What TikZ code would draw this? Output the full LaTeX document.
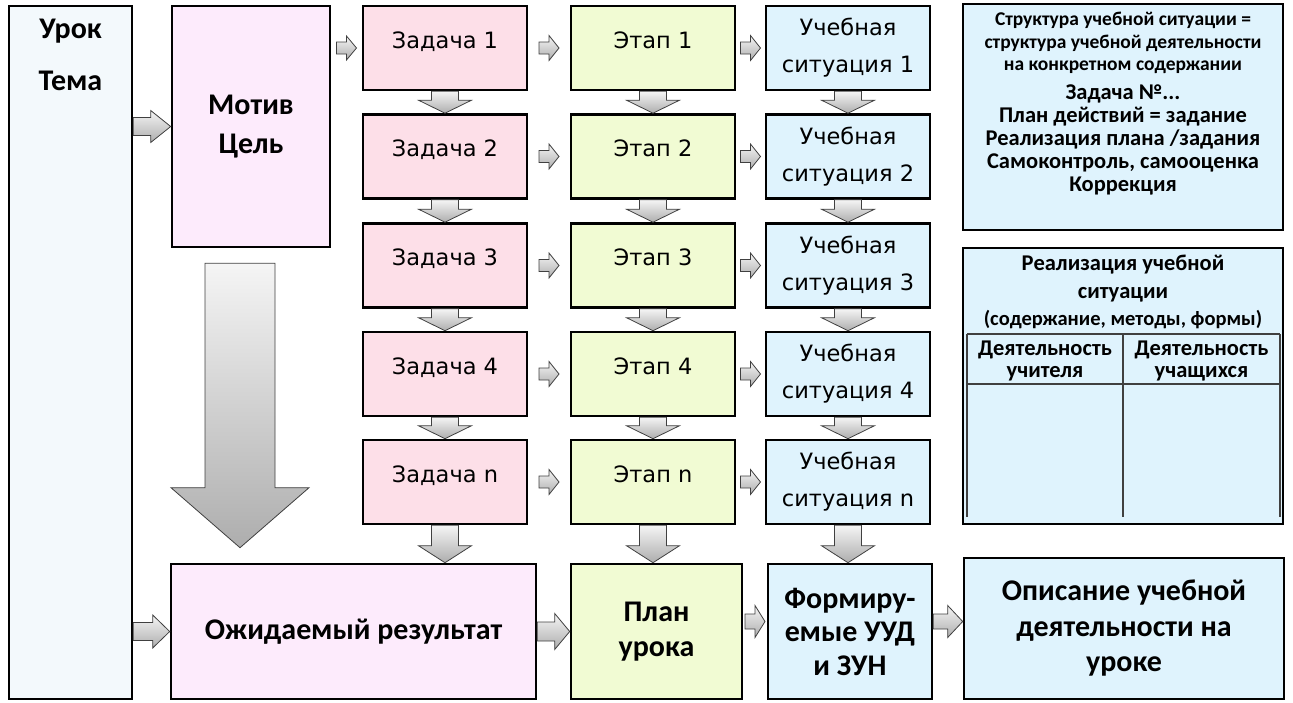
\documentclass[tikz,border=0pt]{standalone}
\usepackage{fontspec}
\setmainfont{Carlito}
\newfontfamily\dvfont{DejaVu Sans}
\usetikzlibrary{calc}
\definecolor{urokfill}{HTML}{F3F9FC}
\definecolor{motivfill}{HTML}{FDEBFC}
\definecolor{zadfill}{HTML}{FDDFE8}
\definecolor{etapfill}{HTML}{F1FBD3}
\definecolor{uchfill}{HTML}{DFF3FD}
\definecolor{arrline}{HTML}{404040}
% full-span horizontal block arrow: from #1 to #2, shaft half #3, head half #4, head length #5
\newcommand{\harr}[5]{\draw[blockarrow] let \p1=(#1), \p2=(#2) in
  (\x1,\y1+#3) -- (\x2-#5,\y1+#3) -- (\x2-#5,\y1+#4) -- (\x2,\y1) -- (\x2-#5,\y1-#4) -- (\x2-#5,\y1-#3) -- (\x1,\y1-#3) -- cycle;}
% short horizontal block arrow centred between #1 and #2: half length #3, shaft half #4, head half #5, head length #6
\newcommand{\sarr}[6]{\draw[blockarrow] let \p1=($(#1)!0.5!(#2)$) in
  (\x1-#3,\y1+#4) -- (\x1+#3-#6,\y1+#4) -- (\x1+#3-#6,\y1+#5) -- (\x1+#3,\y1) -- (\x1+#3-#6,\y1-#5) -- (\x1+#3-#6,\y1-#4) -- (\x1-#3,\y1-#4) -- cycle;}
% vertical block arrow from #1 down to #2: shaft half #3, head half #4, head length #5
\newcommand{\darr}[5]{\draw[blockarrow] let \p1=(#1), \p2=(#2) in
  (\x1-#3,\y1) -- (\x1-#3,\y2+#5) -- (\x1-#4,\y2+#5) -- (\x1,\y2) -- (\x1+#4,\y2+#5) -- (\x1+#3,\y2+#5) -- (\x1+#3,\y1) -- cycle;}
\begin{document}
\begin{tikzpicture}[x=1pt,y=-1pt,
  box/.style={draw=black, line width=2.6pt, inner sep=0pt, align=center},
  bold/.style={font=\bfseries\fontsize{30}{39}\selectfont, align=center},
  plain/.style={font=\dvfont\fontsize{22.5}{37}\selectfont},
  oneline/.style={plain, text height=16pt, text depth=16pt},
  blockarrow/.style={draw=arrline, line width=0.8pt, top color=black!4, bottom color=black!32},
  tline/.style={draw=black!75, line width=1.4pt}]
\useasboundingbox (0,0) rectangle (1293,702);

% left column
\node[box, fill=urokfill, minimum width=123pt, minimum height=693pt] (urok) at (70.5,352.5) {};
\node[bold] (urokt) at (70.5,31) {Урок};
\node[bold] (temat) at (70.5,81) {Тема};
\node[box, fill=motivfill, minimum width=158pt, minimum height=241pt, bold] (motiv) at (251,126.5) {Мотив\\Цель};

% rows
\foreach \i/\lab/\cy in {1/1/48, 2/2/156.5, 3/3/265.5, 4/4/374, 5/n/482} {
  \node[box, fill=zadfill, minimum width=164pt, minimum height=84pt, oneline] (zad\i) at (445,\cy) {Задача \lab};
  \node[box, fill=etapfill, minimum width=164pt, minimum height=84pt, oneline] (etap\i) at (653,\cy) {Этап \lab};
  \node[box, fill=uchfill, minimum width=164pt, minimum height=84pt, plain] (uch\i) at (848,\cy) {Учебная\\ситуация \lab};
}

% bottom row
\node[box, fill=motivfill, minimum width=365pt, minimum height=135pt, bold] (ozh) at (353.5,631.5) {Ожидаемый результат};
\node[box, fill=etapfill, minimum width=171pt, minimum height=135pt, bold, font=\bfseries\fontsize{30}{35}\selectfont] (plan) at (656.5,631.5) {План\\урока};
\node[box, fill=uchfill, minimum width=164pt, minimum height=135pt, bold, font=\bfseries\fontsize{30}{33.5}\selectfont] (form) at (850,631.5) {Формиру-\\емые УУД\\и ЗУН};
\node[box, fill=uchfill, minimum width=320pt, minimum height=141pt, bold, font=\bfseries\fontsize{30}{35.5}\selectfont] (opis) at (1124,628.5) {Описание учебной\\деятельности на\\уроке};

% right info boxes
\node[box, fill=uchfill, minimum width=320pt, minimum height=226pt] (struct) at (1123,117) {};
\node[bold, font=\bfseries\fontsize{19.5}{22.5}\selectfont] (st1) at (1123,43) {Структура учебной ситуации =\\структура учебной деятельности\\на конкретном содержании};
\node[bold, font=\bfseries\fontsize{22.5}{23}\selectfont] (st2) at (1123,140) {Задача №...\\План действий = задание\\Реализация плана /задания\\Самоконтроль, самооценка\\Коррекция};

\node[box, fill=uchfill, minimum width=320pt, minimum height=276pt] (table) at (1123,386) {};
\node[bold, font=\bfseries\fontsize{22.5}{28}\selectfont] (tb1) at (1123,279) {Реализация учебной\\ситуации};
\node[bold, font=\bfseries\fontsize{20.5}{20}\selectfont] (tb2) at (1123,320) {(содержание, методы, формы)};
\node[bold, font=\bfseries\fontsize{22.5}{22}\selectfont] (tc1) at (1045,361) {Деятельность\\учителя};
\node[bold, font=\bfseries\fontsize{22.5}{22}\selectfont] (tc2) at (1201.5,361) {Деятельность\\учащихся};
\draw[tline] (967,334) -- (1280,334);
\draw[tline] (967,384) -- (1280,384);
\draw[tline] (967,334) -- (967,517);
\draw[tline] (1123,334) -- (1123,517);
\draw[tline] (1280,334) -- (1280,517);

% arrows
\coordinate (pfa) at ($(plan.east)+(0,-10)$);
\coordinate (pfb) at ($(form.west)+(0,-10)$);
\coordinate (foa) at ($(form.east)+(0,-10)$);
\harr{urok.east |- motiv.west}{motiv.west}{9pt}{16pt}{20pt}
\harr{urok.east |- ozh.west}{ozh.west}{9pt}{16.5pt}{17pt}
\harr{ozh.east}{plan.west}{9.5pt}{18pt}{15pt}
\sarr{pfa}{pfb}{10pt}{7.5pt}{16pt}{10pt}
\harr{foa}{foa -| opis.west}{7.5pt}{16pt}{15pt}
\sarr{motiv.east |- zad1.west}{zad1.west}{10pt}{6pt}{12pt}{10pt}
\foreach \i in {1,...,5} {
  \sarr{zad\i.east}{etap\i.west}{10pt}{6pt}{12.5pt}{10pt}
  \sarr{etap\i.east}{uch\i.west}{10pt}{6pt}{12.5pt}{10pt}
}
\foreach \i/\j in {1/2,2/3,3/4,4/5} {
  \darr{zad\i.south}{zad\j.north}{13.5pt}{26.5pt}{13pt}
  \darr{etap\i.south}{etap\j.north}{13.5pt}{26.5pt}{13pt}
  \darr{uch\i.south}{uch\j.north}{13.5pt}{26.5pt}{13pt}
}
\darr{zad5.south}{zad5.south |- ozh.north}{13.5pt}{26.5pt}{17pt}
\darr{etap5.south}{etap5.south |- plan.north}{13.5pt}{26.5pt}{17pt}
\darr{uch5.south}{uch5.south |- form.north}{13.5pt}{26.5pt}{17pt}
\coordinate (bigtop) at ($(motiv.south)+(-11,15)$);
\coordinate (bigtip) at ($(bigtop |- ozh.north)+(0,-15)$);
\darr{bigtop}{bigtip}{35pt}{69pt}{60pt}
\end{tikzpicture}
\end{document}
